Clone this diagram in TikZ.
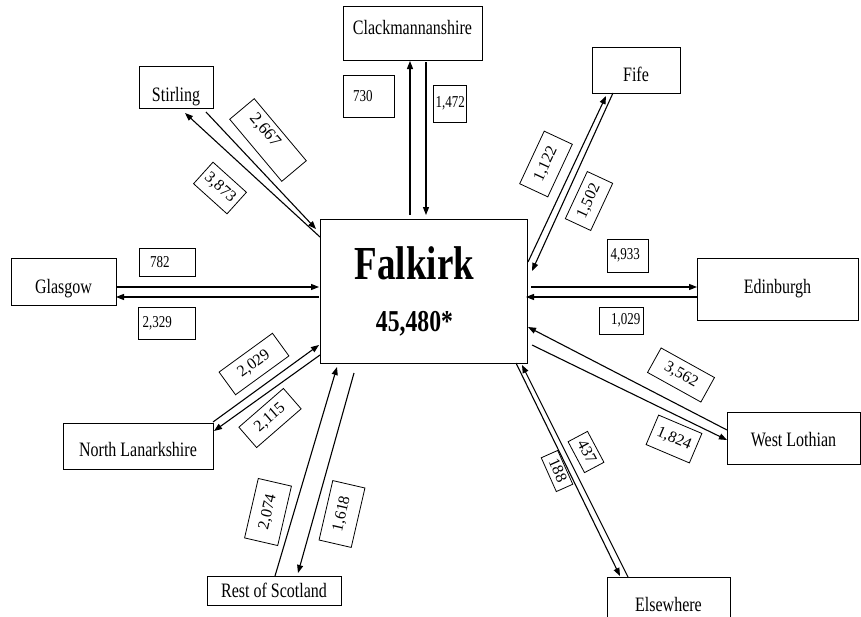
\documentclass[tikz,border=0pt]{standalone}
\usepackage{fontspec}
\setmainfont{Liberation Serif}
\usepackage{graphicx}
\usetikzlibrary{arrows.meta}
\newcommand\vs[1]{\scalebox{1}[1.28]{#1}}
\newcommand\nbx[3]{\makebox[#1][l]{\hspace*{#2}\vs{#3}}}
\tikzset{
 place/.style={draw, line width=0.9pt, inner sep=0pt, font=\fontsize{16}{19}\selectfont},
 numbox/.style={draw, line width=0.8pt, inner sep=0pt, font=\fontsize{13}{15}\selectfont},
 rlab/.style={draw, line width=0.8pt, inner sep=0pt, font=\fontsize{16}{18}\selectfont, text height=11.5pt, text depth=3.5pt},
 flow/.style={line width=1.1pt, -{Triangle[length=8pt,width=6pt]}},
}
\begin{document}
\begin{tikzpicture}[x=1pt,y=-1pt]
\useasboundingbox (0,0) rectangle (861,616);

% places
\node[place, minimum width=139pt, minimum height=54pt, text height=16.8pt, text depth=13.2pt] (clack) at (412.5,33) {\vs{Clackmannanshire}};
\node[place, minimum width=74pt, minimum height=42pt, text height=29.8pt, text depth=0.2pt] (stirling) at (176,87) {\vs{Stirling}};
\node[place, minimum width=88pt, minimum height=46pt, text height=26.8pt, text depth=3.2pt] (fife) at (636,70) {\vs{Fife}};
\node[place, minimum width=105pt, minimum height=47pt, text height=26.8pt, text depth=3.2pt] (glasgow) at (63.5,281.5) {\vs{Glasgow}};
\node[place, minimum width=161pt, minimum height=62pt, text height=19.8pt, text depth=10.2pt] (edinburgh) at (777.5,289) {\vs{Edinburgh}};
\node[place, minimum width=150pt, minimum height=46pt, text height=25.8pt, text depth=4.2pt] (nlan) at (138,446) {\vs{North Lanarkshire}};
\node[place, minimum width=134pt, minimum height=29pt, text height=18pt, text depth=5pt] (ros) at (274,590.5) {\vs{Rest of Scotland}};
\node[place, minimum width=133pt, minimum height=52pt, text height=23.8pt, text depth=6.2pt] (wlothian) at (793.5,438) {\vs{West Lothian}};
\node[place, minimum width=123pt, minimum height=40pt, text height=29.8pt, text depth=0.2pt] (elsewhere) at (668.5,597) {\vs{Elsewhere}};

% centre
\node[place, line width=1pt, minimum width=207pt, minimum height=144pt] (falkirk) at (423.5,291)
 {\hbox{\vbox{\baselineskip=52pt\lineskiplimit=-\maxdimen
   \hbox to 150pt{\hss\vs{\fontsize{37}{37}\selectfont\bfseries Falkirk}\hss}
   \hbox to 150pt{\hss\vs{\fontsize{23.7}{24}\selectfont\bfseries 45,480*}\hss}}\kern18pt}};

% straight number labels
\node[numbox, minimum height=42pt] (n730) at (368.5,96) {\nbx{51pt}{10pt}{730}};
\node[numbox, minimum height=37pt] (n1472) at (449.5,103.5) {\nbx{33pt}{2.5pt}{1,472}};
\node[numbox, minimum height=28pt] (n782) at (167,262) {\nbx{56pt}{11pt}{782}};
\node[numbox, minimum height=32pt] (n2329) at (166.5,323) {\nbx{57pt}{4.5pt}{2,329}};
\node[numbox, minimum height=33pt] (n4933) at (627.5,255.5) {\nbx{41pt}{3.5pt}{4,933}};
\node[numbox, minimum height=27pt] (n1029) at (621,320.5) {\nbx{44pt}{12pt}{1,029}};

% rotated number labels
\node[rlab, rotate=65, minimum width=58pt, minimum height=31pt] (n1122) at (546,164) {1,122};
\node[rlab, rotate=65, minimum width=52pt, minimum height=28pt] (n1502) at (589,201) {1,502};
\node[rlab, rotate=-50, minimum width=81pt, minimum height=32pt, font=\fontsize{17}{19}\selectfont, text height=10.6pt, text depth=9.4pt] (n2667) at (268,140) {\makebox[81pt][l]{\hspace*{12pt}2,667}};
\node[rlab, rotate=-42, minimum width=45pt, minimum height=29pt] (n3873) at (220,188) {3,873};
\node[rlab, rotate=36, minimum width=66pt, minimum height=28pt] (n2029) at (254,364) {2,029};
\node[rlab, rotate=41, minimum width=59pt, minimum height=27pt] (n2115) at (270,418) {2,115};
\node[rlab, rotate=77, minimum width=61pt, minimum height=34pt] (n2074) at (268,512) {2,074};
\node[rlab, rotate=77, minimum width=61pt, minimum height=33pt] (n1618) at (342,514) {1,618};
\node[rlab, rotate=-62, minimum width=35pt, minimum height=22pt] (n437) at (586,452) {437};
\node[rlab, rotate=-66, minimum width=37pt, minimum height=18pt] (n188) at (557,471) {188};
\node[rlab, rotate=-29, minimum width=61pt, minimum height=28pt] (n3562) at (681,375) {3,562};
\node[rlab, rotate=-23, minimum width=47pt, minimum height=32pt] (n1824) at (674,439) {1,824};

% connector end points
\coordinate (cu1) at (410,215); \coordinate (cu2) at (410,61);
\coordinate (cd1) at (426,62);  \coordinate (cd2) at (426,215);
\coordinate (so1) at (320,237); \coordinate (so2) at (185,113);
\coordinate (si1) at (206,112); \coordinate (si2) at (316,229);
\coordinate (fo1) at (528,262); \coordinate (fo2) at (606,96);
\coordinate (fi1) at (613,93);  \coordinate (fi2) at (532,271);
\coordinate (eo1) at (531,287); \coordinate (eo2) at (697,287);
\coordinate (ei1) at (697,297); \coordinate (ei2) at (526,297);
\coordinate (gi1) at (116,287); \coordinate (gi2) at (319,287);
\coordinate (go1) at (319,297); \coordinate (go2) at (116,297);
\coordinate (ni1) at (213,422); \coordinate (ni2) at (319,345);
\coordinate (no1) at (320,355); \coordinate (no2) at (214,431);
\coordinate (ri1) at (275,576); \coordinate (ri2) at (337,367);
\coordinate (ro1) at (354,373); \coordinate (ro2) at (298,573);
\coordinate (xo1) at (516,363); \coordinate (xo2) at (620,576);
\coordinate (xi1) at (628,577); \coordinate (xi2) at (522,365);
\coordinate (wi1) at (727,430); \coordinate (wi2) at (528,327);
\coordinate (wo1) at (532,345); \coordinate (wo2) at (727,440);

% connectors
\draw[flow] (cu1) -- (cu2);
\draw[flow] (cd1) -- (cd2);
\draw[flow] (so1) -- (so2);
\draw[flow] (si1) -- (si2);
\draw[flow] (fo1) -- (fo2);
\draw[flow] (fi1) -- (fi2);
\draw[flow] (eo1) -- (eo2);
\draw[flow] (ei1) -- (ei2);
\draw[flow] (gi1) -- (gi2);
\draw[flow] (go1) -- (go2);
\draw[flow] (ni1) -- (ni2);
\draw[flow] (no1) -- (no2);
\draw[flow] (ri1) -- (ri2);
\draw[flow] (ro1) -- (ro2);
\draw[flow] (xo1) -- (xo2);
\draw[flow] (xi1) -- (xi2);
\draw[flow] (wi1) -- (wi2);
\draw[flow] (wo1) -- (wo2);
\end{tikzpicture}
\end{document}
